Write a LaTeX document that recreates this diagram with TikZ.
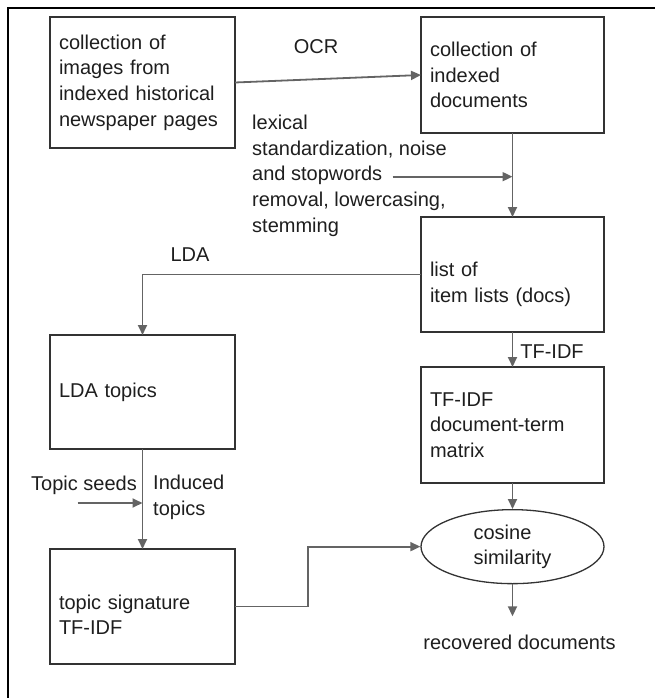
\documentclass[tikz,border=0pt]{standalone}
\usepackage{fontspec}
\setmainfont{Liberation Sans}
\usetikzlibrary{arrows.meta,positioning,calc,shapes.geometric}
\definecolor{edge}{HTML}{333333}
\definecolor{wire}{HTML}{646464}
\definecolor{ink}{HTML}{1E1E1E}
\tikzset{box/.style={draw=edge,line width=1.3pt,align=left,inner xsep=9pt,outer sep=0pt,
  font=\fontsize{20}{25.6}\selectfont,text=ink},
  flow/.style={-{Triangle[length=10pt,width=9pt]},line width=1.8pt,draw=wire},
  lbl/.style={inner sep=0pt,align=left,font=\fontsize{20}{25.6}\selectfont,text=ink}}

\begin{document}
\begin{tikzpicture}[x=1pt,y=1pt]
\useasboundingbox (0,0) rectangle (654,-698);
\draw[line width=1.5pt] (8,-8) rectangle (680,-720);
% right column
\node[box,text width=167pt,minimum height=131pt,anchor=north west] (imgs) at (50,-17) {collection of\\images from\\indexed historical\\newspaper pages};
\node[box,text width=165pt,minimum height=116pt,below right=0pt and 186pt of imgs.north east] (docs) {collection of\\indexed\\documents};
\node[box,text width=165pt,text height=34pt,minimum height=115pt,below=84pt of docs] (lists) {list of\\item lists (docs)};
\node[box,text width=165pt,minimum height=116pt,below=35pt of lists] (tfidf) {TF-IDF\\document-term\\matrix};
\node[ellipse,draw=edge,line width=1.3pt,minimum width=183pt,minimum height=74pt,align=left,
  font=\fontsize{20}{25.6}\selectfont,text=ink,below=26pt of tfidf] (cos) {cosine\\similarity};
\node[lbl,below=50pt of cos,xshift=7pt] (found) {recovered documents};
% left column
\node[box,text width=167pt,minimum height=114pt,below=187pt of imgs] (topics) {LDA topics};
\node[box,text width=167pt,text height=31pt,minimum height=115pt,below=100pt of topics] (sig) {topic signature\\TF-IDF};
% helper points
\coordinate (prep) at ($(docs.south)!0.52!(lists.north)$);
\coordinate (prepfrom) at ($(prep)+(-120,0)$);
\coordinate (seed) at ($(topics.south)!0.54!(sig.north)$);
\coordinate (seedfrom) at ($(seed)+(-65,0)$);
% labels
\node[lbl] (ocr) at (316,-47) {OCR};
\node[lbl,anchor=north west] (prepnote) at (252,-115) {lexical\\standardization, noise\\and stopwords\\removal, lowercasing,\\stemming};
\node[lbl] (lda) at (190,-255) {LDA};
\node[lbl] (tfidfnote) at (552,-352) {TF-IDF};
\node[lbl] (seeds) at (84,-485) {Topic seeds};
\node[lbl,anchor=north west] (induced) at (153,-475) {Induced\\topics};
% connectors
\draw[flow] (imgs.east) -- (docs.west);
\draw[flow] (docs) -- (lists);
\draw[flow] (prepfrom) -- (prep);
\draw[flow] (lists) -- (tfidf);
\draw[flow] (tfidf) -- (cos);
\draw[flow,shorten >=18pt] (cos.south) -- (cos.south |- found.north);
\draw[flow] (lists.west) -| (topics.north);
\draw[flow] (topics) -- (sig);
\draw[flow] (seedfrom) -- (seed);
\draw[flow] (sig.east) -- ++(73,0) |- (cos.west);
\end{tikzpicture}
\end{document}
